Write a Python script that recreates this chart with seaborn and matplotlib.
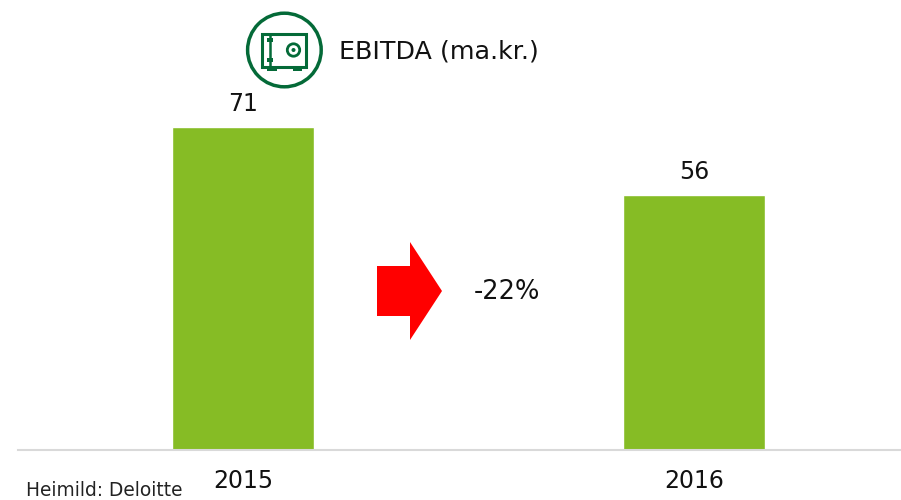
import matplotlib
matplotlib.use("Agg")
import matplotlib.pyplot as plt
from matplotlib.patches import Circle, Polygon, Rectangle
import pandas as pd
import seaborn as sns

years = ["2015", "2016"]
ebitda = [71, 56]
title = "EBITDA (ma.kr.)"
change = "-22%"
source = "Heimild: Deloitte"

GREEN = "#86BC25"
DARK_GREEN = "#046A38"

sns.set_theme(style="white")
plt.rcParams['font.family'] = ['DejaVu Sans']

df = pd.DataFrame({"year": years, "ebitda": ebitda})

fig = plt.figure(figsize=(9.01, 5), dpi=100)
ax = fig.add_axes([18 / 901, 50 / 500, 883 / 901, 450 / 500])
sns.barplot(data=df, x="year", y="ebitda", color=GREEN, saturation=1, width=0.315, ax=ax)
ax.set_xlim(-0.499, 1.459)
ax.set_ylim(0, 98.8)
ax.set_xlabel("")
ax.set_ylabel("")
ax.set_yticks([])
ax.tick_params(axis="x", length=0, pad=14, labelsize=17, labelcolor="#111111")
for side in ["top", "left", "right"]:
    ax.spines[side].set_visible(False)
ax.spines["bottom"].set_color("#D9D9D9")
ax.spines["bottom"].set_linewidth(1.5)
ax.bar_label(ax.containers[0], padding=8, fontsize=17, color="#111111")

# overlay in pixel coordinates for the annotations
ov = fig.add_axes([0, 0, 1, 1], facecolor="none")
ov.set_xlim(0, 901)
ov.set_ylim(500, 0)
ov.axis("off")

# red arrow
ov.add_patch(Polygon([(377, 266), (410, 266), (410, 242), (442, 291), (410, 340), (410, 316), (377, 316)],
                     closed=True, facecolor="#FF0000", edgecolor="none"))
ov.text(474, 292, change, fontsize=18.5, color="#111111", va="center", ha="left")

# safe icon
ov.add_patch(Circle((284.4, 50), 36.8, fill=False, edgecolor=DARK_GREEN, linewidth=2.5))
ov.add_patch(Rectangle((262, 33.5), 44, 33, fill=False, edgecolor=DARK_GREEN, linewidth=2.2))
ov.plot([269.5, 269.5], [33.5, 66.5], color=DARK_GREEN, linewidth=1.8)
ov.add_patch(Circle((293.5, 50), 6.2, fill=False, edgecolor=DARK_GREEN, linewidth=2.0))
ov.add_patch(Circle((293.5, 50), 2, facecolor=DARK_GREEN, edgecolor="none"))
for hinge_y in [39.5, 59.5]:
    ov.add_patch(Rectangle((267, hinge_y - 2), 5.5, 4, facecolor=DARK_GREEN, edgecolor="none"))
for foot_x in [267, 292.5]:
    ov.add_patch(Rectangle((foot_x, 66.5), 9.5, 4.5, facecolor=DARK_GREEN, edgecolor="none"))

ov.text(339, 51, title, fontsize=18.3, color="#111111", va="center", ha="left")
ov.text(26, 495.5, source, fontsize=13.4, color="#222222", va="baseline", ha="left")

plt.savefig("out.png", dpi=100)
plt.close()
